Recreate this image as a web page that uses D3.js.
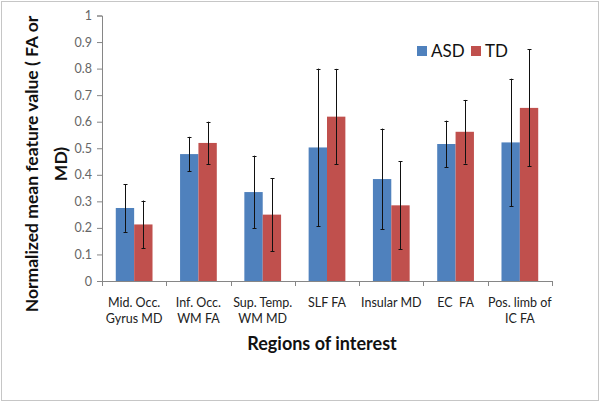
<!DOCTYPE html>
<html><head><meta charset="utf-8">
<script src="https://cdn.jsdelivr.net/npm/d3@7"></script>
<style>body{margin:0;background:#fff;} svg{display:block;}</style>
</head><body>
<script>
const categories = [["Mid. Occ.","Gyrus MD"],["Inf. Occ.","WM FA"],["Sup. Temp.","WM MD"],["SLF FA"],["Insular MD"],["EC\u00a0 FA"],["Pos. limb of","IC FA"]];
const seriesNames = ["ASD","TD"];
const asdValues = [0.275,0.478,0.335,0.503,0.384,0.516,0.522];
const asdErrors = [0.09,0.065,0.137,0.297,0.19,0.088,0.24];
const tdValues = [0.213,0.52,0.25,0.619,0.285,0.562,0.652];
const tdErrors = [0.09,0.08,0.138,0.18,0.166,0.12,0.22];
const yTicks = [0,0.1,0.2,0.3,0.4,0.5,0.6,0.7,0.8,0.9,1];
const colors = ["#4F81BD","#C0504D"];

(function(){
const W=600,H=403;
const svg=d3.select("body").append("svg").attr("width",W).attr("height",H);
svg.append("rect").attr("x",1.5).attr("y",1.5).attr("width",597).attr("height",399)
  .attr("fill","#fff").attr("stroke","#c6c6c6").attr("stroke-width",1);

const pL=102,pR=552,pT=15.5,pB=281;
const font="Lato, 'Open Sans', sans-serif";
const x=d3.scaleBand().domain(d3.range(categories.length)).range([pL,pR]).paddingInner(0).paddingOuter(0);
const y=d3.scaleLinear().domain([0,1]).range([pB,pT]);
const barW=x.bandwidth()/3.5;

// y axis
const gy=svg.append("g").attr("transform",`translate(${pL},0)`)
  .call(d3.axisLeft(y).tickValues(yTicks).tickSize(5).tickPadding(5).tickFormat(d=>d3.format("~g")(d)));
gy.select(".domain").attr("stroke","#868686").attr("d",`M-5,${y(1)+0.5}H0.5V${pB+0.5}`);
gy.selectAll(".tick line").attr("stroke","#868686");
gy.selectAll(".tick text").attr("fill","#666").attr("font-family",font).attr("font-size",12.5);

// x axis
const gx=svg.append("g").attr("transform",`translate(0,${pB})`);
gx.append("line").attr("x1",pL).attr("x2",pR).attr("y1",0.5).attr("y2",0.5).attr("stroke","#868686");
gx.selectAll("line.tk").data(d3.range(categories.length+1)).join("line").attr("class","tk")
  .attr("x1",i=>Math.round(pL+i*x.step())+0.5).attr("x2",i=>Math.round(pL+i*x.step())+0.5)
  .attr("y1",0).attr("y2",5).attr("stroke","#868686");
const labs=svg.append("g").selectAll("text").data(categories).join("text")
  .attr("x",(d,i)=>x(i)+x.bandwidth()/2).attr("y",307)
  .attr("text-anchor","middle").attr("font-family",font).attr("font-size",12.5).attr("fill","#222");
labs.selectAll("tspan").data(d=>d).join("tspan").attr("x",function(){return this.parentNode.getAttribute("x");})
  .attr("dy",(d,i)=>i?16:0).text(d=>d);

// bars
const series=[asdValues,tdValues], errs=[asdErrors,tdErrors];
series.forEach((vals,s)=>{
  const g=svg.append("g");
  const cx=i=>x(i)+x.bandwidth()/2-barW+s*barW;
  g.selectAll("rect").data(vals).join("rect")
    .attr("x",(d,i)=>cx(i)).attr("width",barW)
    .attr("y",d=>y(d)).attr("height",d=>pB-y(d)).attr("fill",colors[s]);
  const e=svg.append("g").attr("stroke","#111").attr("stroke-width",1);
  vals.forEach((v,i)=>{
    const mx=Math.round(cx(i)+barW/2)+0.5;
    const y1=y(v+errs[s][i]), y2=y(v-errs[s][i]);
    e.append("line").attr("x1",mx).attr("x2",mx).attr("y1",y1).attr("y2",y2);
    e.append("line").attr("x1",mx-2).attr("x2",mx+2).attr("y1",Math.round(y1)+0.5).attr("y2",Math.round(y1)+0.5);
    e.append("line").attr("x1",mx-2).attr("x2",mx+2).attr("y1",Math.round(y2)+0.5).attr("y2",Math.round(y2)+0.5);
  });
});

// legend
const lg=svg.append("g");
const lx=[417,471];
seriesNames.forEach((n,i)=>{
  lg.append("rect").attr("x",lx[i]).attr("y",46).attr("width",10).attr("height",10).attr("fill",colors[i]);
  lg.append("text").attr("x",lx[i]+14).attr("y",57).attr("font-family",font).attr("font-size",17).attr("fill","#111").text(n);
});

// titles
svg.append("text").attr("x",322).attr("y",350).attr("text-anchor","middle")
  .attr("font-family",font).attr("font-weight","bold").attr("font-size",18).attr("fill","#111").text("Regions of interest");
const yt=svg.append("text").attr("transform","translate(0,164) rotate(-90)").attr("text-anchor","middle")
  .attr("font-family",font).attr("font-weight","bold").attr("font-size",17.5).attr("fill","#111");
yt.append("tspan").attr("x",0).attr("y",38).text("Normalized mean feature value ( FA or");
yt.append("tspan").attr("x",0).attr("y",67).text("MD)");
})();
</script>
</body></html>
